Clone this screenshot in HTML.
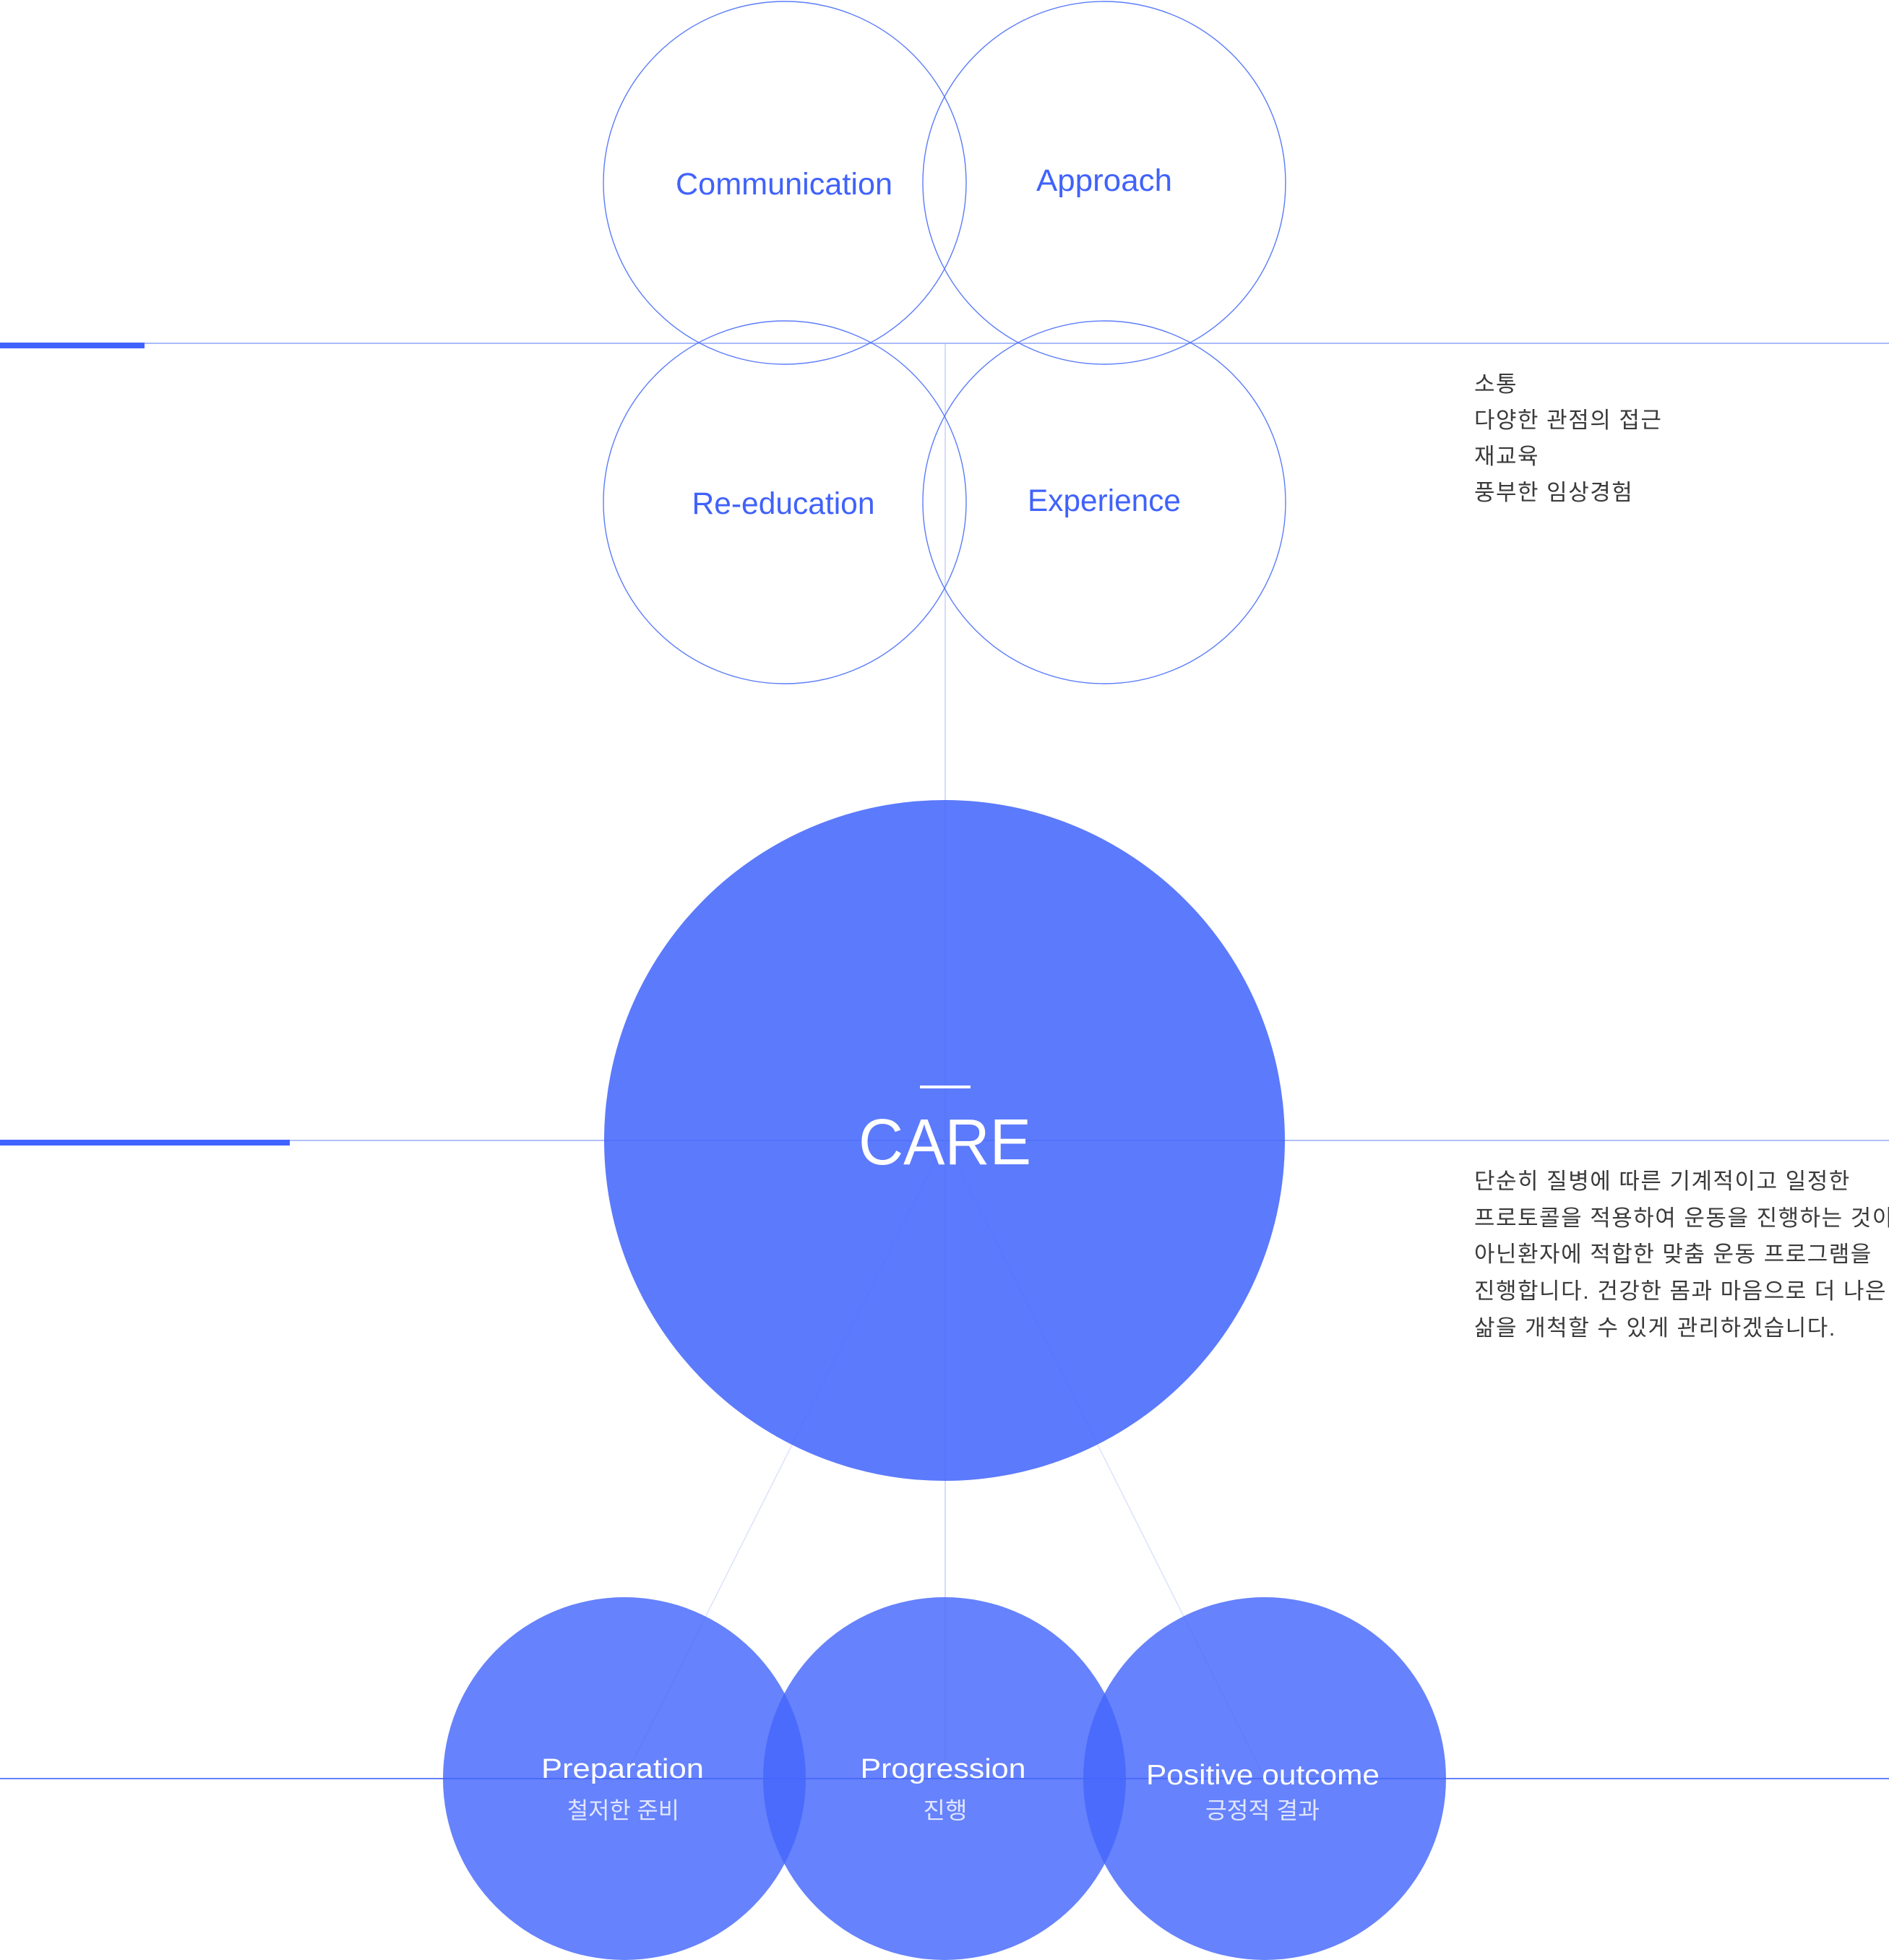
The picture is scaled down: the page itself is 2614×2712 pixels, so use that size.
<!DOCTYPE html>
<html>
<head>
<meta charset="utf-8">
<style>
  html, body { margin:0; padding:0; background:#ffffff; }
  body { width:2614px; height:2712px; overflow:hidden; position:relative; }
  svg { position:absolute; left:0; top:0; display:block; }
</style>
</head>
<body>
<svg width="2614" height="2712" viewBox="0 0 2614 2712" xmlns="http://www.w3.org/2000/svg">
  <!-- guide lines -->
  <rect x="0" y="474" width="2614" height="2" fill="#aabaf9"/>
  <rect x="0" y="1577" width="2614" height="2" fill="#b0bff8"/>
  <rect x="1307" y="476" width="2" height="1984" fill="#d3dcfc"/>
  <line x1="1308" y1="1578" x2="864" y2="2460" stroke="#dde3fb" stroke-width="1.5"/>
  <line x1="1308" y1="1578" x2="1750" y2="2460" stroke="#dde3fb" stroke-width="1.5"/>
  <rect x="0" y="2460" width="2614" height="2" fill="#6682fc"/>

  <!-- accent bars -->
  <rect x="0" y="474" width="200" height="8" fill="#4063fe"/>
  <rect x="0" y="1577" width="401" height="8" fill="#4063fe"/>

  <!-- top outline circles -->
  <g fill="none" stroke="#5b7cf9" stroke-width="1.4">
    <circle cx="1086" cy="253" r="251"/>
    <circle cx="1528" cy="253" r="251"/>
    <circle cx="1086" cy="695" r="251"/>
    <circle cx="1528" cy="695" r="251"/>
  </g>

  <g font-family="'Liberation Sans', sans-serif" fill="#4062fb" font-size="43" text-anchor="middle">
    <text x="1085" y="269" textLength="300" lengthAdjust="spacingAndGlyphs">Communication</text>
    <text x="1528" y="264" textLength="188" lengthAdjust="spacingAndGlyphs">Approach</text>
    <text x="1084" y="711" textLength="253" lengthAdjust="spacingAndGlyphs">Re-education</text>
    <text x="1528" y="707" textLength="212" lengthAdjust="spacingAndGlyphs">Experience</text>
  </g>

  <!-- CARE circle -->
  <circle cx="1307" cy="1578" r="471" fill="rgba(68,102,251,0.87)"/>
  <rect x="1273" y="1502" width="70" height="4" fill="#ffffff"/>
  <text x="1307.5" y="1611" font-family="'Liberation Sans', sans-serif" font-size="90" fill="#ffffff" text-anchor="middle" textLength="239" lengthAdjust="spacingAndGlyphs">CARE</text>

  <!-- bottom circles -->
  <circle cx="864" cy="2461" r="251" fill="rgba(68,102,251,0.82)"/>
  <circle cx="1307" cy="2461" r="251" fill="rgba(68,102,251,0.82)"/>
  <circle cx="1750" cy="2461" r="251" fill="rgba(68,102,251,0.82)"/>

  <g font-family="'Liberation Sans', sans-serif" fill="#ffffff" font-size="38" text-anchor="middle">
    <text x="861.5" y="2460" textLength="225" lengthAdjust="spacingAndGlyphs">Preparation</text>
    <text x="1305" y="2460" textLength="229" lengthAdjust="spacingAndGlyphs">Progression</text>
    <text x="1747.5" y="2469" font-size="39" textLength="323" lengthAdjust="spacingAndGlyphs">Positive outcome</text>
  </g>
  <g font-family="'Liberation Sans', 'Noto Sans CJK KR', sans-serif" fill="#e0e6ff" font-size="32" text-anchor="middle">
    <text x="862.5" y="2516" textLength="155" lengthAdjust="spacingAndGlyphs">철저한 준비</text>
    <text x="1308" y="2516" textLength="61" lengthAdjust="spacingAndGlyphs">진행</text>
    <text x="1747" y="2516" textLength="158" lengthAdjust="spacingAndGlyphs">긍정적 결과</text>
  </g>

  <!-- right text blocks -->
  <g font-family="'Liberation Sans', 'Noto Sans CJK KR', sans-serif" fill="#3a3a3a" font-size="31" letter-spacing="1.5">
    <text x="2040" y="542">소통</text>
    <text x="2040" y="592">다양한 관점의 접근</text>
    <text x="2040" y="642">재교육</text>
    <text x="2040" y="692">풍부한 임상경험</text>

    <text x="2040" y="1645">단순히 질병에 따른 기계적이고 일정한</text>
    <text x="2040" y="1696">프로토콜을 적용하여 운동을 진행하는 것이</text>
    <text x="2040" y="1746">아닌환자에 적합한 맞춤 운동 프로그램을</text>
    <text x="2040" y="1797">진행합니다. 건강한 몸과 마음으로 더 나은</text>
    <text x="2040" y="1848">삶을 개척할 수 있게 관리하겠습니다.</text>
  </g>
</svg>
</body>
</html>
